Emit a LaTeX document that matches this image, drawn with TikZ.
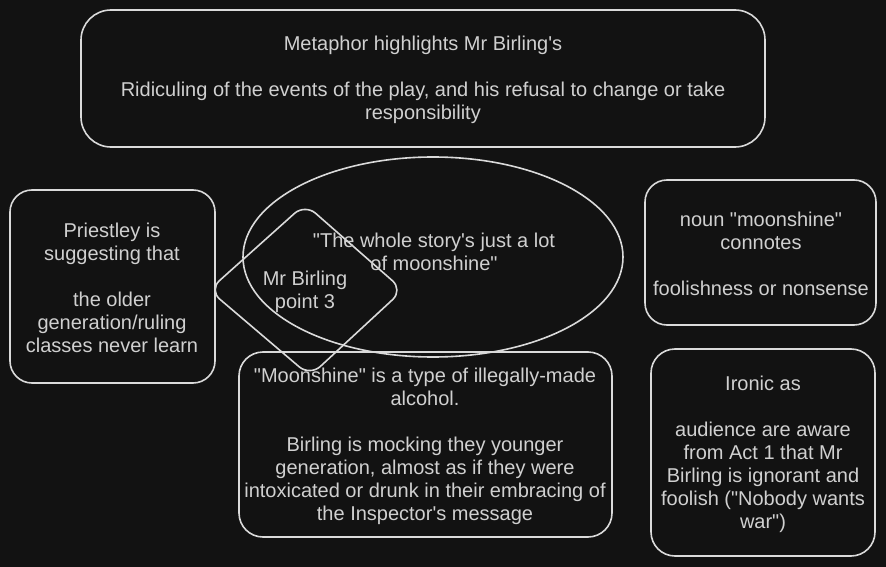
\documentclass[tikz,border=0pt]{standalone}
\usepackage{fontspec}
\setmainfont{Liberation Sans}
\definecolor{boardbg}{HTML}{121212}
\definecolor{inkline}{HTML}{DADADA}
\definecolor{inktext}{HTML}{D0D0D0}
\newcommand{\dq}{\textquotedbl}
\newcommand{\sq}{\textquotesingle}
\tikzset{
  sketch/.style={draw=inkline, line width=1.6pt, line join=round},
  notetext/.style={text=inktext, align=center, inner sep=0pt, font=\fontsize{20}{23}\selectfont},
}
\begin{document}
\begin{tikzpicture}[x=1pt,y=1pt,yscale=-1,xscale=1]
\path[fill=boardbg] (0,0) rectangle (886,567);

%Shape: Rounded Rectangle [id:top]
\draw[sketch, rounded corners=30pt] (81,10) rectangle (765,147);
%Shape: Rounded Rectangle [id:left]
\draw[sketch, rounded corners=22pt] (10,190) rectangle (215,383);
%Shape: Ellipse [id:quote]
\draw[sketch] (433,257) ellipse [x radius=190, y radius=100];
%Shape: Diamond [id:point]
\draw[sketch, rounded corners=14pt] (305,204) -- (403,290) -- (310,376) -- (209,290) -- cycle;
%Shape: Rounded Rectangle [id:noun]
\draw[sketch, rounded corners=22pt] (645,180) rectangle (876,325);
%Shape: Rounded Rectangle [id:alcohol]
\draw[sketch, rounded corners=24pt] (239,352) rectangle (612,537);
%Shape: Rounded Rectangle [id:ironic]
\draw[sketch, rounded corners=24pt] (651,349) rectangle (875,556);

% Text Node
\node[notetext] (metaphor) at (423,80) {Metaphor highlights Mr Birling\sq s\\[23pt]
Ridiculing of the events of the play, and his refusal to change or take\\
responsibility};
% Text Node
\node[notetext] (priestley) at (112,288) {Priestley is\\
suggesting that\\[23pt]
the older\\
generation/ruling\\
classes never learn};
% Text Node
\node[notetext] (story) at (434,251.5) {\dq The whole story\sq s just a lot\\
of moonshine\dq};
% Text Node
\node[notetext] (birling) at (305,292) {Mr Birling\\
point 3};
% Text Node
\node[notetext] (noun) at (761,254) {noun \dq moonshine\dq\\
connotes\\[23pt]
foolishness or nonsense};
% Text Node
\node[notetext] (moonshine) at (425,446) {\dq Moonshine\dq\ is a type of illegally-made\\
alcohol.\\[23pt]
Birling is mocking they younger\\
generation, almost as if they were\\
intoxicated or drunk in their embracing of\\
the Inspector\sq s message};
% Text Node
\node[notetext] (irony) at (763,454) {Ironic as\\[23pt]
audience are aware\\
from Act 1 that Mr\\
Birling is ignorant and\\
foolish (\dq Nobody wants\\
war\dq)};
\end{tikzpicture}
\end{document}
